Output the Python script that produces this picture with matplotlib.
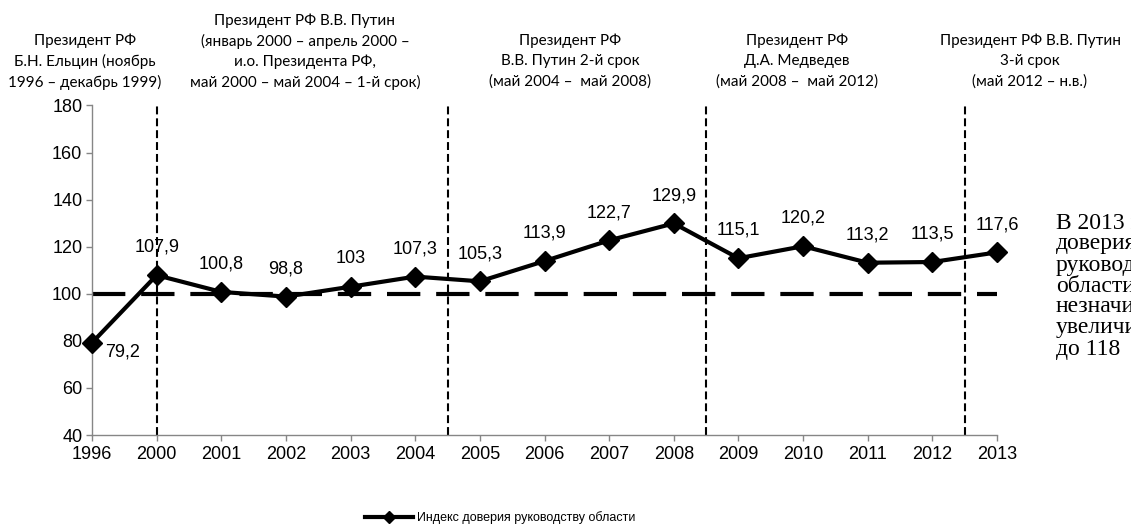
import matplotlib
matplotlib.use("Agg")
import matplotlib.pyplot as plt

plt.rcParams['font.family'] = ['Liberation Sans', 'DejaVu Sans']

years = ["1996", "2000", "2001", "2002", "2003", "2004", "2005", "2006",
         "2007", "2008", "2009", "2010", "2011", "2012", "2013"]
trust = [79.2, 107.9, 100.8, 98.8, 103, 107.3, 105.3, 113.9,
         122.7, 129.9, 115.1, 120.2, 113.2, 113.5, 117.6]
trust_labels = ["79,2", "107,9", "100,8", "98,8", "103", "107,3", "105,3", "113,9",
                "122,7", "129,9", "115,1", "120,2", "113,2", "113,5", "117,6"]
# boundaries between presidential terms (category positions)
term_bounds = [1, 5.5, 9.5, 13.5]
baseline = 100
series_name = "Индекс доверия руководству области"

# headers over the chart: (x centre in px, lines)
headers = [
    (85, ["Президент РФ", "Б.Н. Ельцин (ноябрь", "1996 – декабрь 1999)"]),
    (305, ["Президент РФ В.В. Путин", "(январь 2000 – апрель 2000 –",
           "и.о. Президента РФ,", "май 2000 – май 2004 – 1-й срок)"]),
    (570, ["Президент РФ", "В.В. Путин 2-й срок", "(май 2004 –  май 2008)"]),
    (797, ["Президент РФ", "Д.А. Медведев", "(май 2008 –  май 2012)"]),
    (1030, ["Президент РФ В.В. Путин", "3-й срок", "(май 2012 – н.в.)"]),
]
side_text = ["В 2013 году индекс", "доверия", "руководству", "области",
             "незначительно", "увеличился", "до 118"]

W, H = 1131, 532
fig = plt.figure(figsize=(W / 100, H / 100), dpi=100)
ax = fig.add_axes([92 / W, 1 - 435 / H, (997 - 92) / W, (435 - 105.5) / H])

x = list(range(len(years)))
ax.axhline(baseline, color="black", lw=3, linestyle=(0, (8, 3.8)), zorder=1)
for b in term_bounds:
    ax.axvline(b, color="black", lw=1.5, linestyle=(0, (3.8, 1.9)), zorder=1)

ax.plot(x, trust, color="black", lw=3, marker="D", markersize=10,
        label=series_name, zorder=3, clip_on=False)

for i, (v, t) in enumerate(zip(trust, trust_labels)):
    if i == 0:
        off = (22, -7)
    else:
        off = (0, 20)
    ax.annotate(t, (i, v), xytext=off, textcoords="offset points",
                ha="center", va="center", fontsize=13)

ax.set_xlim(0, len(years) - 1)
ax.set_ylim(40, 180)
ax.set_yticks(range(40, 181, 20))
ax.set_xticks(x)
ax.set_xticklabels(years)
ax.tick_params(axis="both", labelsize=13, direction="out", length=4,
               color="#868686", width=1)
ax.tick_params(axis="x", pad=4)
ax.tick_params(axis="y", pad=3)
for s in ["top", "right"]:
    ax.spines[s].set_visible(False)
for s in ["left", "bottom"]:
    ax.spines[s].set_color("#868686")
    ax.spines[s].set_linewidth(1)

for cx, lines in headers:
    y0 = 82 - 20.5 * (len(lines) - 1)
    for k, line in enumerate(lines):
        fig.text(cx / W, 1 - (y0 + 20.5 * k) / H, line, ha="center", va="center",
                 fontsize=11, family=["Lato", "DejaVu Sans"])

# side note, cut by the right edge as in the source
for k, line in enumerate(side_text):
    fig.text(1056 / W, 1 - (223 + 21 * k) / H, line, ha="left", va="center",
             fontsize=17, family=["Liberation Serif", "DejaVu Serif"])

fig.legend(loc="center", bbox_to_anchor=(500 / W, 1 - 518 / H), frameon=False,
           fontsize=9, handlelength=3.9, markerscale=0.6, handletextpad=0.3)

fig.savefig("out.png", dpi=100)
